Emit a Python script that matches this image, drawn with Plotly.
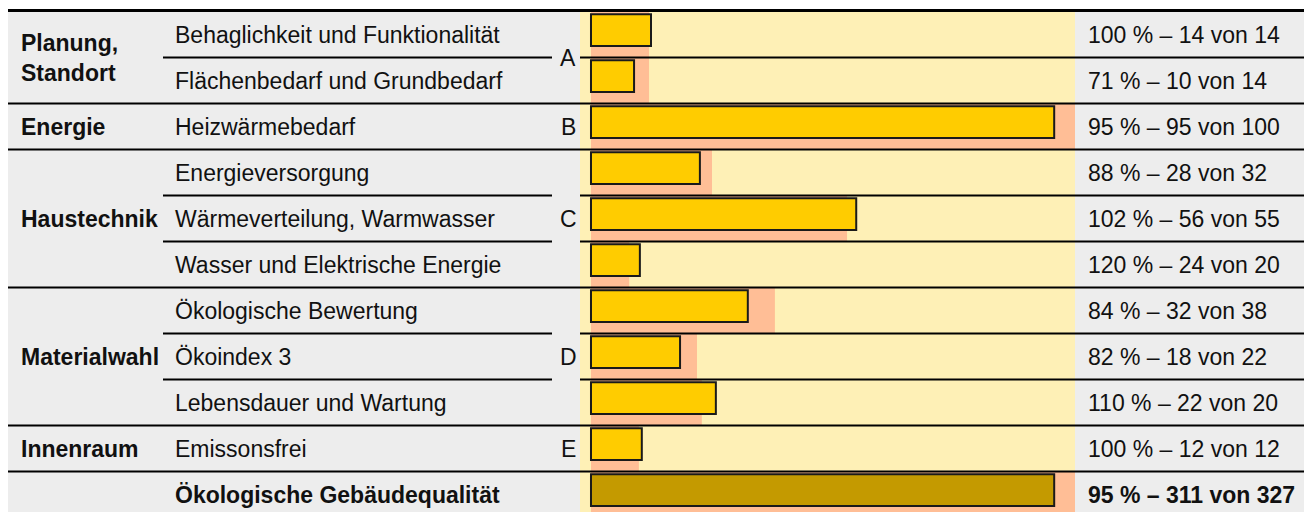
import plotly.graph_objects as go

# ---------------- data ----------------
subcategories = [
    "Behaglichkeit und Funktionalität",
    "Flächenbedarf und Grundbedarf",
    "Heizwärmebedarf",
    "Energieversorgung",
    "Wärmeverteilung, Warmwasser",
    "Wasser und Elektrische Energie",
    "Ökologische Bewertung",
    "Ökoindex 3",
    "Lebensdauer und Wartung",
    "Emissonsfrei",
    "Ökologische Gebäudequalität",
]
# bar lengths as drawn (chart units, full bar column = 100)
achieved_scaled = [12.4, 8.9, 95.7, 22.5, 54.8, 10.1, 32.4, 18.4, 25.8, 10.5, 95.7]
reference_scaled = [12.0, 12.0, 100.0, 25.0, 52.9, 7.9, 38.0, 21.9, 22.9, 9.9, 100.0]
# figures printed in the right-hand column
percent = [100, 71, 95, 88, 102, 120, 84, 82, 110, 100, 95]
points = [14, 10, 95, 28, 56, 24, 32, 18, 22, 12, 311]
max_points = [14, 14, 100, 32, 55, 20, 38, 22, 20, 12, 327]
# groups
group_names = ["Planung,<br>Standort", "Energie", "Haustechnik", "Materialwahl", "Innenraum"]
group_letters = ["A", "B", "C", "D", "E"]
group_sizes = [2, 1, 3, 3, 1]

# ---------------- layout constants ----------------
W, H = 1312, 512
OFF = 8  # page margin around the plot div
FONT = "Liberation Sans, Arial, sans-serif"
FS = 23
TXT = "#111111"
GRAY = "#EDEDED"
LIGHT_YELLOW = "#FEF0B6"
SALMON = "#FFBE96"
YELLOW = "#FFCC00"
DARK_GOLD = "#C49A00"

def px(x):
    """page x pixel -> paper fraction"""
    return (x - OFF) / W

# page y pixel of row i centre = 34.5 + 46 * i ; figure pixel = page - OFF
ROW_H = 46.0
ROW0 = 34.5 - OFF
y_top = (0 - ROW0) / ROW_H
y_bot = (H - ROW0) / ROW_H

n = len(subcategories)
rows = list(range(n))

fig = go.Figure()

# reference (salmon) bars - full row height
fig.add_trace(go.Bar(
    orientation="h", y=rows, x=reference_scaled, width=1.0,
    marker=dict(color=SALMON, line=dict(width=0)),
    hoverinfo="skip", showlegend=False,
))
# achieved (yellow) bars
bar_colors = [YELLOW] * (n - 1) + [DARK_GOLD]
fig.add_trace(go.Bar(
    orientation="h", y=rows, x=achieved_scaled, width=0.69, offset=-0.44,
    marker=dict(color=bar_colors, line=dict(color="#1A1A1A", width=2)),
    hoverinfo="skip", showlegend=False,
))

shapes = []
# backgrounds
shapes.append(dict(type="rect", xref="paper", yref="y", x0=px(5), x1=1, y0=-0.52, y1=11,
                   fillcolor=GRAY, line=dict(width=0), layer="below"))
shapes.append(dict(type="rect", xref="paper", yref="y", x0=px(580), x1=px(1075), y0=-0.52, y1=11,
                   fillcolor=LIGHT_YELLOW, line=dict(width=0), layer="below"))

# horizontal lines
group_ends = []
acc = 0
for s in group_sizes:
    acc += s
    group_ends.append(acc - 1)
for k in range(n - 1):
    yb = k + 0.5
    if k in group_ends:
        shapes.append(dict(type="line", xref="paper", yref="y", x0=px(5), x1=1, y0=yb, y1=yb,
                           line=dict(color="black", width=2.2), layer="above"))
    else:
        shapes.append(dict(type="line", xref="paper", yref="y", x0=px(163), x1=px(552), y0=yb, y1=yb,
                           line=dict(color="black", width=2), layer="above"))
        shapes.append(dict(type="line", xref="paper", yref="y", x0=px(580), x1=1, y0=yb, y1=yb,
                           line=dict(color="black", width=2), layer="above"))
# top border and left border
shapes.append(dict(type="line", xref="paper", yref="y", x0=px(3.3), x1=1, y0=-0.52, y1=-0.52,
                   line=dict(color="black", width=3), layer="above"))
shapes.append(dict(type="line", xref="paper", yref="y", x0=px(5), x1=px(5), y0=-0.55, y1=11,
                   line=dict(color="black", width=3.5), layer="above"))

annotations = []
# subcategory labels and right-hand figures
for i in range(n):
    bold = i == n - 1
    sub = f"<b>{subcategories[i]}</b>" if bold else subcategories[i]
    annotations.append(dict(xref="paper", yref="y", x=px(173), y=i, text=sub, showarrow=False,
                            xanchor="left", yanchor="middle",
                            font=dict(family=FONT, size=FS, color=TXT)))
    lab = f"{percent[i]} % – {points[i]} von {max_points[i]}"
    if bold:
        lab = f"<b>{lab}</b>"
    annotations.append(dict(xref="paper", yref="y", x=px(1086), y=i, text=lab, showarrow=False,
                            xanchor="left", yanchor="middle",
                            font=dict(family=FONT, size=FS, color=TXT)))
# group labels and letters
start = 0
for g, s in enumerate(group_sizes):
    yc = start + (s - 1) / 2
    annotations.append(dict(xref="paper", yref="y", x=px(19), y=yc, text=f"<b>{group_names[g]}</b>",
                            showarrow=False, xanchor="left", yanchor="middle", align="left",
                            font=dict(family=FONT, size=FS, color=TXT)))
    annotations.append(dict(xref="paper", yref="y", x=px(568), y=yc, text=group_letters[g],
                            showarrow=False, xanchor="center", yanchor="middle",
                            font=dict(family=FONT, size=FS, color=TXT)))
    start += s

fig.update_layout(
    width=W, height=H,
    margin=dict(l=0, r=0, t=0, b=0),
    paper_bgcolor="white", plot_bgcolor="rgba(0,0,0,0)",
    barmode="overlay",
    xaxis=dict(domain=[px(580), px(1075)], range=[-2.27, 100], visible=False, fixedrange=True),
    yaxis=dict(domain=[0, 1], range=[y_bot, y_top], visible=False, fixedrange=True),
    shapes=shapes, annotations=annotations,
    showlegend=False,
)

fig.write_html("out.html")
